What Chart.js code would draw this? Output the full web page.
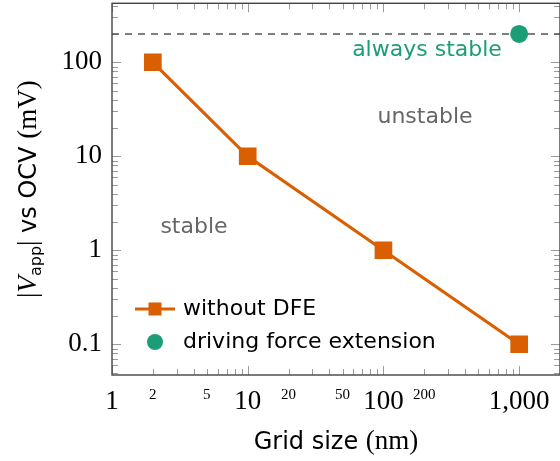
<!DOCTYPE html>
<html>
<head>
<meta charset="utf-8">
<script src="https://cdn.jsdelivr.net/npm/chart.js@4.4.1/dist/chart.umd.min.js"></script>
<style>
  html, body { margin: 0; padding: 0; background: #ffffff; }
  #wrap { width: 560px; height: 461px; }
</style>
</head>
<body>
<div id="wrap"><canvas id="c" width="560" height="461"></canvas></div>
<script>
// ---- data ----
const gridSizes = [2, 10, 100, 1000];            // nm
const vappWithoutDFE = [100, 10, 1, 0.1];         // mV
const dfeGridSizes = [1000];
const vappDFE = [200];
const alwaysStableLimit = 200;                    // mV, dashed line

const seriesNames = ['without DFE', 'driving force extension'];

const xTickValues = [1, 2, 5, 10, 20, 50, 100, 200, 1000];
const xTickLabels = ['1', '2', '5', '10', '20', '50', '100', '200', '1,000'];
const xMajorValues = [1, 10, 100, 1000];
const yTickValues = [0.1, 1, 10, 100];
const yTickLabels = ['0.1', '1', '10', '100'];

const xMin = 1, xMax = 2000;
const yMin = 0.0471, yMax = 424;

// ---- styles ----
const ORANGE = '#d95f02';
const GREEN = '#1b9e77';
const GRAY_TEXT = '#666666';
const SERIF = '"Liberation Serif", "DejaVu Serif", serif';
const SANS = '"DejaVu Sans", sans-serif';

function decadeMinorValues(lo, hi) {
  const out = [];
  for (let e = Math.floor(Math.log10(lo)); e <= Math.ceil(Math.log10(hi)); e++) {
    for (let m = 1; m <= 9; m++) {
      const v = m * Math.pow(10, e);
      if (v >= lo * 0.999 && v <= hi * 1.001) out.push({ v, major: m === 1 });
    }
  }
  return out;
}

const framePlugin = {
  id: 'frame',
  beforeDatasetsDraw(chart) {
    const { ctx, chartArea: a, scales } = chart;
    const xs = scales.x, ys = scales.y;
    ctx.save();
    // ticks (inward, all four sides)
    ctx.strokeStyle = '#9a9a9a';
    ctx.lineWidth = 1;
    decadeMinorValues(xMin, xMax).forEach(t => {
      const px = Math.round(xs.getPixelForValue(t.v)) + 0.5;
      const len = t.major ? 9 : 6;
      ctx.beginPath();
      ctx.moveTo(px, a.bottom); ctx.lineTo(px, a.bottom - len);
      ctx.moveTo(px, a.top); ctx.lineTo(px, a.top + len);
      ctx.stroke();
    });
    decadeMinorValues(yMin, yMax).forEach(t => {
      const py = Math.round(ys.getPixelForValue(t.v)) + 0.5;
      const len = t.major ? 9 : 6;
      ctx.beginPath();
      ctx.moveTo(a.left, py); ctx.lineTo(a.left + len, py);
      ctx.moveTo(a.right, py); ctx.lineTo(a.right - len, py);
      ctx.stroke();
    });
    // dashed "always stable" limit
    const yl = ys.getPixelForValue(alwaysStableLimit);
    ctx.strokeStyle = '#555555';
    ctx.lineWidth = 1.5;
    ctx.setLineDash([7, 6]);
    ctx.beginPath();
    ctx.moveTo(a.left, yl); ctx.lineTo(a.right, yl);
    ctx.stroke();
    ctx.setLineDash([]);
    // frame
    ctx.strokeStyle = '#444444';
    ctx.lineWidth = 1.4;
    ctx.strokeRect(a.left, a.top, a.right - a.left, a.bottom - a.top);
    ctx.restore();
  },
  afterDraw(chart) {
    const { ctx, chartArea: a } = chart;
    ctx.save();
    // annotations
    ctx.textAlign = 'center';
    ctx.textBaseline = 'alphabetic';
    ctx.font = '22px ' + SANS;
    ctx.fillStyle = GREEN;
    ctx.fillText('always stable', 427, 56);
    ctx.fillStyle = GRAY_TEXT;
    ctx.fillText('unstable', 425, 123);
    ctx.fillText('stable', 194, 233);

    // legend
    const lx = a.left + 23, ly1 = 309, ly2 = 342;
    ctx.strokeStyle = ORANGE;
    ctx.lineWidth = 3;
    ctx.beginPath();
    ctx.moveTo(lx, ly1); ctx.lineTo(lx + 40, ly1);
    ctx.stroke();
    ctx.fillStyle = ORANGE;
    ctx.fillRect(lx + 20 - 6.5, ly1 - 6.5, 13, 13);
    ctx.fillStyle = GREEN;
    ctx.beginPath();
    ctx.arc(lx + 20, ly2, 8, 0, Math.PI * 2);
    ctx.fill();
    ctx.fillStyle = '#000000';
    ctx.textAlign = 'left';
    ctx.textBaseline = 'middle';
    ctx.fillText(seriesNames[0], lx + 48, ly1);
    ctx.fillText(seriesNames[1], lx + 48, ly2);

    // x title: "Grid size (nm)"
    const xSegs = [
      { t: 'Grid size ', f: '24px ' + SANS },
      { t: '(nm)', f: '27px ' + SERIF }
    ];
    let w = 0;
    xSegs.forEach(s => { ctx.font = s.f; s.w = ctx.measureText(s.t).width; w += s.w; });
    let cx = (a.left + a.right) / 2 - w / 2;
    ctx.textAlign = 'left';
    ctx.textBaseline = 'alphabetic';
    ctx.fillStyle = '#000000';
    xSegs.forEach(s => { ctx.font = s.f; ctx.fillText(s.t, cx, 449); cx += s.w; });

    // y title: "|V_app| vs OCV (mV)"
    const ySegs = [
      { t: '|', f: '27px ' + SERIF, dy: 0 },
      { t: 'V', f: 'italic 27px ' + SERIF, dy: 0 },
      { t: 'app', f: '16px ' + SANS, dy: 5 },
      { t: '|', f: '27px ' + SERIF, dy: 0 },
      { t: ' vs OCV ', f: '24px ' + SANS, dy: 0 },
      { t: '(mV)', f: '27px ' + SERIF, dy: 0 }
    ];
    w = 0;
    ySegs.forEach(s => { ctx.font = s.f; s.w = ctx.measureText(s.t).width; w += s.w; });
    ctx.translate(36, (a.top + a.bottom) / 2);
    ctx.rotate(-Math.PI / 2);
    cx = -w / 2;
    ySegs.forEach(s => { ctx.font = s.f; ctx.fillText(s.t, cx, s.dy); cx += s.w; });
    ctx.restore();
  }
};

new Chart(document.getElementById('c'), {
  type: 'line',
  data: {
    datasets: [
      {
        label: seriesNames[0],
        data: gridSizes.map((x, i) => ({ x, y: vappWithoutDFE[i] })),
        borderColor: ORANGE,
        backgroundColor: ORANGE,
        borderWidth: 3.2,
        pointStyle: 'rect',
        pointRadius: 12.5,
        pointBorderWidth: 0,
        pointHoverRadius: 12.5,
        tension: 0
      },
      {
        label: seriesNames[1],
        data: dfeGridSizes.map((x, i) => ({ x, y: vappDFE[i] })),
        showLine: false,
        borderColor: GREEN,
        backgroundColor: GREEN,
        pointStyle: 'circle',
        pointRadius: 9,
        pointBorderWidth: 0,
        pointHoverRadius: 9
      }
    ]
  },
  options: {
    responsive: false,
    animation: false,
    devicePixelRatio: 1,
    layout: { autoPadding: false, padding: { left: 0, right: -1, top: 3.3, bottom: 0 } },
    plugins: { legend: { display: false }, tooltip: { enabled: false }, title: { display: false } },
    scales: {
      x: {
        type: 'logarithmic',
        position: 'bottom',
        min: xMin, max: xMax,
        grid: { display: false, drawTicks: true, tickLength: 11 },
        border: { display: false },
        afterFit(scale) { scale.height = 86; scale.paddingLeft = 0; scale.paddingRight = 0; },
        afterBuildTicks(scale) { scale.ticks = xTickValues.map(v => ({ value: v })); },
        ticks: {
          padding: 0,
          maxRotation: 0,
          autoSkip: false,
          color: '#000000',
          font: (ctx) => ({ family: SERIF, size: (ctx.tick && xMajorValues.includes(ctx.tick.value)) ? 27 : 15 }),
          callback: (value) => {
            const i = xTickValues.indexOf(value);
            return i >= 0 ? xTickLabels[i] : '';
          }
        }
      },
      y: {
        type: 'logarithmic',
        position: 'left',
        min: yMin, max: yMax,
        grid: { display: false, drawTicks: true, tickLength: 10 },
        border: { display: false },
        afterFit(scale) { scale.width = 112; scale.paddingTop = 0; scale.paddingBottom = 0; },
        afterBuildTicks(scale) { scale.ticks = yTickValues.map(v => ({ value: v })); },
        ticks: {
          padding: 0,
          autoSkip: false,
          color: '#000000',
          font: { family: SERIF, size: 27 },
          callback: (value) => {
            const i = yTickValues.indexOf(value);
            return i >= 0 ? yTickLabels[i] : '';
          }
        }
      }
    }
  },
  plugins: [framePlugin]
});
</script>
</body>
</html>
